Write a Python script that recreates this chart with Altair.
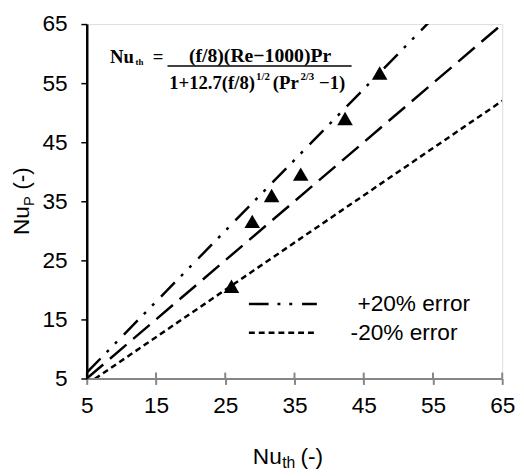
import altair as alt
import pandas as pd

# ---- data ----
nu_th = [25.9, 28.9, 31.7, 35.9, 42.3, 47.3]
nu_p = [20.6, 31.6, 36.0, 39.6, 49.0, 56.7]
line_names = ["+20% error", "-20% error"]
line_factors = [1.2, 0.8]
parity_factor = 1.0
axis_ticks = [5, 15, 25, 35, 45, 55, 65]
axis_range = [5, 65]

# ---- styles ----
FONT = "Liberation Sans"
SERIF = "Liberation Serif"
GRAY = "#868686"
dash_styles = [[20, 9, 3, 9, 3, 10], [6, 4]]
parity_dash = [22, 9]
LW = 2.5

pts = pd.DataFrame({"nu_th": nu_th, "nu_p": nu_p})
rows = []
for name, f in zip(line_names, line_factors):
    for v in axis_range:
        rows.append({"series": name, "x": v, "y": f * v})
lines = pd.DataFrame(rows)
parity = pd.DataFrame({"x": axis_range, "y": [parity_factor * v for v in axis_range]})
ticks_df = pd.DataFrame({"t": axis_ticks})

xs = alt.Scale(domain=axis_range, nice=False, zero=False)
ys = alt.Scale(domain=axis_range, nice=False, zero=False)

x_axis = alt.Axis(values=axis_ticks, title=None, grid=False, domainColor=GRAY, domainWidth=2,
                  tickColor=GRAY, tickWidth=2, tickSize=6, labelFontSize=23, labelFont=FONT,
                  labelColor="black", labelPadding=11, labelFlush=False, labelOverlap=False, zindex=1)
y_axis = alt.Axis(values=axis_ticks, title=None, grid=False, domainColor="black", domainWidth=2.5,
                  tickColor="black", tickWidth=1.5, tickSize=6, labelFontSize=23, labelFont=FONT,
                  labelColor="black", labelPadding=14, labelFlush=False, labelOverlap=False, zindex=1)

err_lines = alt.Chart(lines).mark_line(clip=True, color="black", strokeWidth=LW).encode(
    x=alt.X("x:Q", scale=xs, axis=x_axis),
    y=alt.Y("y:Q", scale=ys, axis=y_axis),
    strokeDash=alt.StrokeDash("series:N", scale=alt.Scale(domain=line_names, range=dash_styles), legend=None),
)

parity_line = alt.Chart(parity).mark_line(clip=True, color="black", strokeWidth=LW, strokeDash=parity_dash).encode(
    x=alt.X("x:Q", scale=xs), y=alt.Y("y:Q", scale=ys)
)

points = alt.Chart(pts).mark_point(shape="triangle-up", filled=True, color="black", size=250, opacity=1).encode(
    x=alt.X("nu_th:Q", scale=xs), y=alt.Y("nu_p:Q", scale=ys)
)

inner_ticks = alt.Chart(ticks_df).mark_rule(color=GRAY, strokeWidth=2).encode(
    x=alt.X("t:Q", scale=xs), y=alt.datum(5), y2=alt.datum(6)
)

OX, OY = 88, 20.7


def txt(s, x, y, size, font=FONT, weight="normal", align="left", baseline="alphabetic", angle=0):
    return alt.Chart(pd.DataFrame({"s": [s]})).mark_text(
        font=font, fontSize=size, fontWeight=weight, align=align, baseline=baseline,
        angle=angle, color="black"
    ).encode(text="s:N", x=alt.value(x - OX), y=alt.value(y - OY))


def hrule(x1, x2, y, dash=None, width=LW):
    kw = dict(color="black", strokeWidth=width)
    if dash:
        kw["strokeDash"] = dash
    return alt.Chart(pd.DataFrame({"a": [0]})).mark_rule(**kw).encode(
        x=alt.value(x1 - OX), x2=alt.value(x2 - OX), y=alt.value(y - OY)
    )


# legend (drawn by hand)
legend_text_x = [363, 356]
legend_layers = []
for i, name in enumerate(line_names):
    yy = 305 + 29.3 * i
    legend_layers.append(hrule(252.7, 321.7, yy, dash_styles[i]))
    legend_layers.append(txt(name, legend_text_x[i], yy, 23, baseline="middle"))

# axis titles with subscripts
titles = [
    txt("Nu", 256.7, 468, 23),
    txt("th", 286.5, 472, 16),
    txt("(-)", 305, 468, 23),
    txt("Nu", 29, 235, 23, angle=270),
    txt("P", 34, 205.6, 15, angle=270),
    txt("(-)", 29, 189, 23, angle=270),
]

# formula annotation
B = "bold"
formula = [
    txt("Nu", 111.7, 60, 19, SERIF, B),
    txt("th", 137.5, 62.5, 9, SERIF, B),
    txt("=", 155, 60, 19, SERIF, B),
    txt("(f/8)(Re\u22121000)Pr", 264, 59, 20, SERIF, B, align="center"),
    hrule(170, 357, 63.3, width=1.5),
    txt("1+12.7(f/8)", 171.7, 87, 19, SERIF, B),
    txt("1/2", 260, 77, 11, SERIF, B),
    txt("(Pr", 277, 87, 19, SERIF, B),
    txt("2/3", 305, 77, 11, SERIF, B),
    txt("\u22121)", 324, 87, 19, SERIF, B),
]

chart = alt.layer(
    err_lines, parity_line, inner_ticks, points, *legend_layers, *titles, *formula
).properties(
    width=422, height=360,
    autosize=alt.AutoSizeParams(type="none"),
    padding={"left": 80, "top": 12.7, "right": 14, "bottom": 90},
).configure_view(
    stroke="black", strokeWidth=2
).configure(background="white")

chart.save("out.html", embed_options={"renderer": "svg", "actions": False})
